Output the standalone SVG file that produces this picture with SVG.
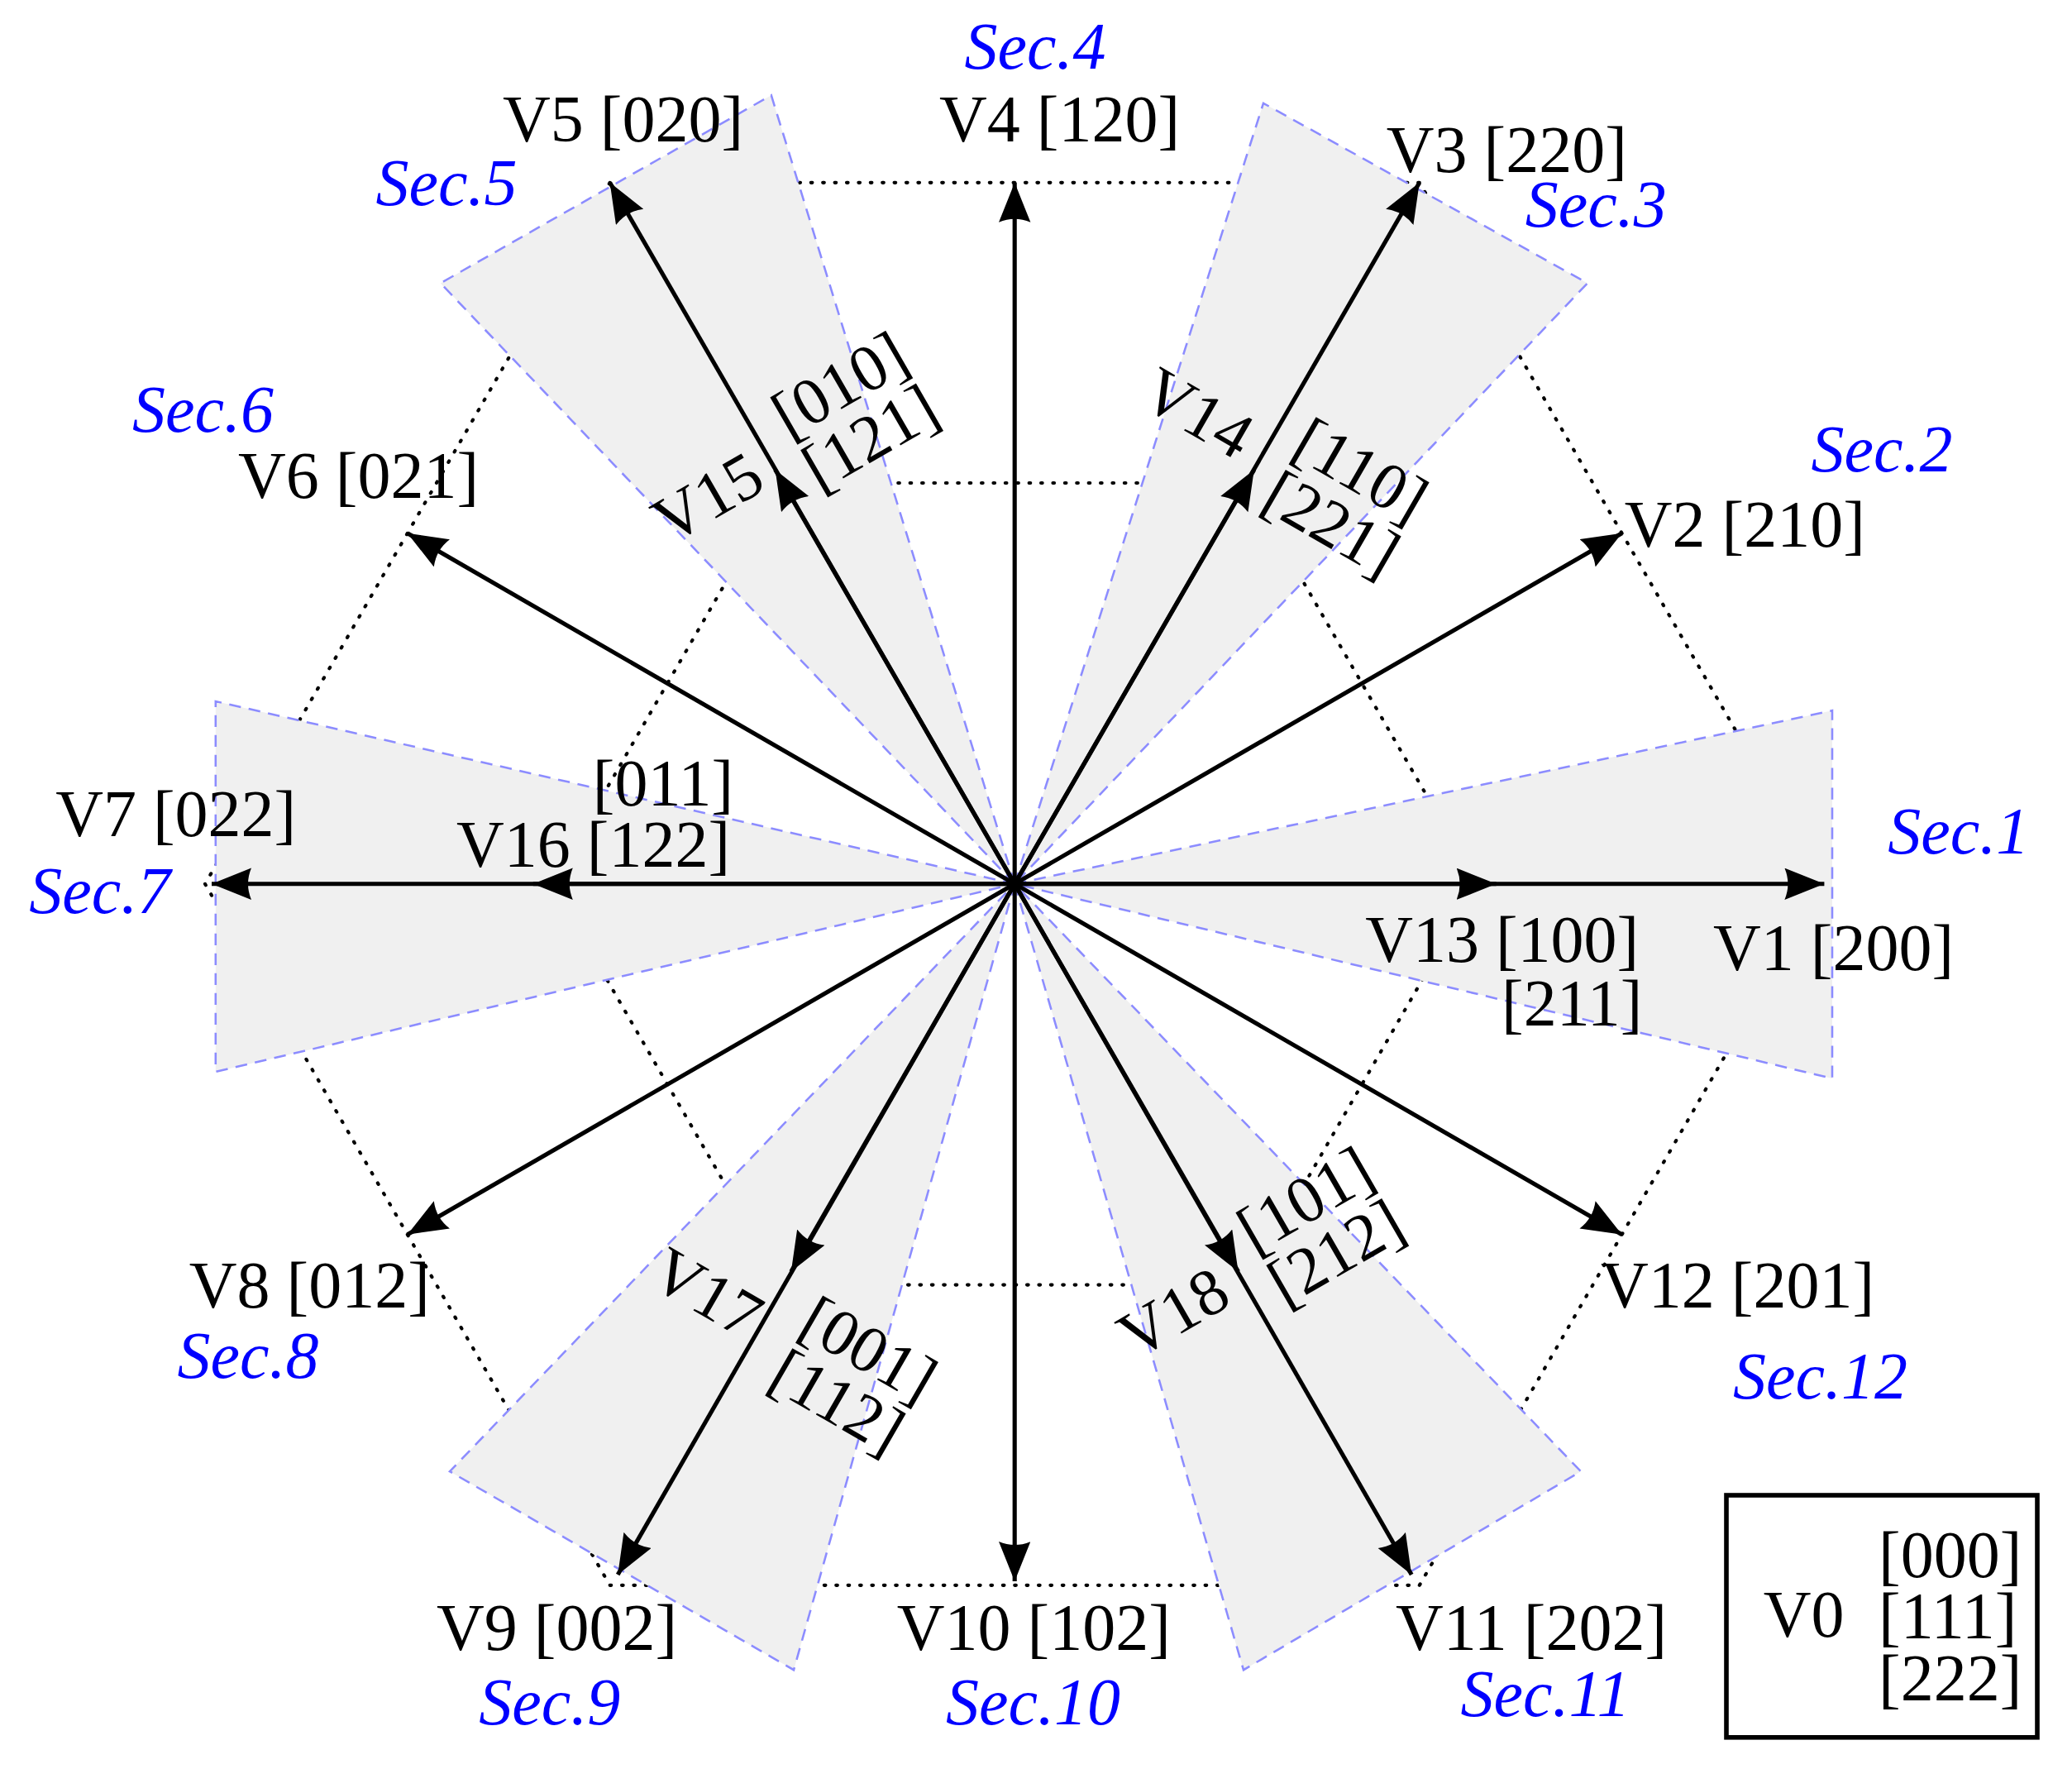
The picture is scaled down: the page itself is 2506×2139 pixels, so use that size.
<svg xmlns="http://www.w3.org/2000/svg" width="2506" height="2139" viewBox="0 0 2506 2139">
<style>
.t{font-family:"Liberation Serif",serif;font-size:50px;fill:#000}
.s{font-family:"Liberation Serif",serif;font-size:50px;font-style:italic;fill:#0000ff}
.w{fill:#f0f0f0;stroke:#8c8cff;stroke-width:1.6;stroke-dasharray:9 6}
.d{fill:none;stroke:#000;stroke-width:2.6;stroke-dasharray:1 8;stroke-linecap:round}
.v{stroke:#000;stroke-width:3.2;marker-end:url(#ah)}
</style>
<defs>
<marker id="ah" markerUnits="userSpaceOnUse" markerWidth="34" markerHeight="28" refX="30" refY="12" orient="auto">
<path d="M0,0 L30,12 L0,24 Q5,12 0,0 z" fill="#000"/>
</marker>
</defs>
<rect width="2506" height="2139" fill="#fff"/>
<g transform="scale(1.6)">
<g id="hexagons">
<polygon class="d" points="1379,668 1073,138 461,138 155,668 461,1198 1073,1198"/>
<polygon class="d" points="1117,668 942,365 592,365 417,668 592,971 942,971"/>
</g>
<g id="sectors">
<polygon class="w" points="767,668 1385,537 1385,815"/>
<polygon class="w" points="767,668 955,78 1200,214"/>
<polygon class="w" points="767,668 583,72 333,214"/>
<polygon class="w" points="767,668 163,530 163,810"/>
<polygon class="w" points="767,668 600,1262 340,1112"/>
<polygon class="w" points="767,668 940,1262 1195,1112"/>
</g>
<g id="connectors">
<line class="v" x1="767" y1="668" x2="1379" y2="668"/>
<line class="v" x1="767" y1="668" x2="1226" y2="403"/>
<line class="v" x1="767" y1="668" x2="1073" y2="138"/>
<line class="v" x1="767" y1="668" x2="767" y2="138"/>
<line class="v" x1="767" y1="668" x2="461" y2="138"/>
<line class="v" x1="767" y1="668" x2="308" y2="403"/>
<line class="v" x1="767" y1="668" x2="160" y2="668"/>
<line class="v" x1="767" y1="668" x2="308" y2="933"/>
<line class="v" x1="767" y1="668" x2="467" y2="1190"/>
<line class="v" x1="767" y1="668" x2="767" y2="1195"/>
<line class="v" x1="767" y1="668" x2="1067" y2="1190"/>
<line class="v" x1="767" y1="668" x2="1226" y2="933"/>
<line class="v" x1="767" y1="668" x2="1131" y2="668"/>
<line class="v" x1="767" y1="668" x2="948" y2="355"/>
<line class="v" x1="767" y1="668" x2="586" y2="355"/>
<line class="v" x1="767" y1="668" x2="403" y2="668"/>
<line class="v" x1="767" y1="668" x2="598" y2="961"/>
<line class="v" x1="767" y1="668" x2="936" y2="961"/>
</g>
<g id="labels">
<text class="s" x="729" y="52">Sec.4</text>
<text class="t" x="710" y="107">V4 [120]</text>
<text class="t" x="380" y="107">V5 [020]</text>
<text class="s" x="284" y="155">Sec.5</text>
<text class="t" x="1048" y="130">V3 [220]</text>
<text class="s" x="1153" y="171">Sec.3</text>
<text class="s" x="100" y="326">Sec.6</text>
<text class="t" x="180" y="376">V6 [021]</text>
<text class="s" x="1369" y="356">Sec.2</text>
<text class="t" x="1228" y="413">V2 [210]</text>
<text class="t" x="42" y="632">V7 [022]</text>
<text class="s" x="22" y="690">Sec.7</text>
<text class="t" x="448" y="609">[011]</text>
<text class="t" x="345" y="655">V16 [122]</text>
<text class="s" x="1427" y="645">Sec.1</text>
<text class="t" x="1032" y="727">V13 [100]</text>
<text class="t" x="1135" y="775">[211]</text>
<text class="t" x="1295" y="733">V1 [200]</text>
<text class="t" x="1210" y="988">V12 [201]</text>
<text class="s" x="1310" y="1057">Sec.12</text>
<text class="t" x="143" y="988">V8 [012]</text>
<text class="s" x="134" y="1041">Sec.8</text>
<text class="t" x="330" y="1247">V9 [002]</text>
<text class="s" x="362" y="1303">Sec.9</text>
<text class="t" x="678" y="1247">V10 [102]</text>
<text class="s" x="715" y="1303">Sec.10</text>
<text class="t" x="1055" y="1247">V11 [202]</text>
<text class="s" x="1104" y="1297">Sec.11</text>
</g>
<g id="v15" transform="translate(506,412) rotate(-30)">
<text class="t" x="0" y="0">V15</text>
<text class="t" x="118" y="-24">[010]</text>
<text class="t" x="118" y="22">[121]</text>
</g>
<g id="v14" transform="translate(860,305) rotate(30)">
<text class="t" x="0" y="0">V14</text>
<text class="t" x="118" y="-24">[110]</text>
<text class="t" x="118" y="22">[221]</text>
</g>
<g id="v17" transform="translate(489,970) rotate(30)">
<text class="t" x="0" y="0">V17</text>
<text class="t" x="116" y="-24">[001]</text>
<text class="t" x="116" y="22">[112]</text>
</g>
<g id="v18" transform="translate(858,1028) rotate(-30)">
<text class="t" x="0" y="0">V18</text>
<text class="t" x="118" y="-24">[101]</text>
<text class="t" x="118" y="22">[212]</text>
</g>
<g id="v0">
<rect x="1305" y="1130" width="235" height="183" fill="none" stroke="#000" stroke-width="3.5"/>
<text class="t" x="1333" y="1237">V0</text>
<text class="t" x="1420" y="1192">[000]</text>
<text class="t" x="1420" y="1238">[111]</text>
<text class="t" x="1420" y="1285">[222]</text>
</g>
</g>
</svg>
